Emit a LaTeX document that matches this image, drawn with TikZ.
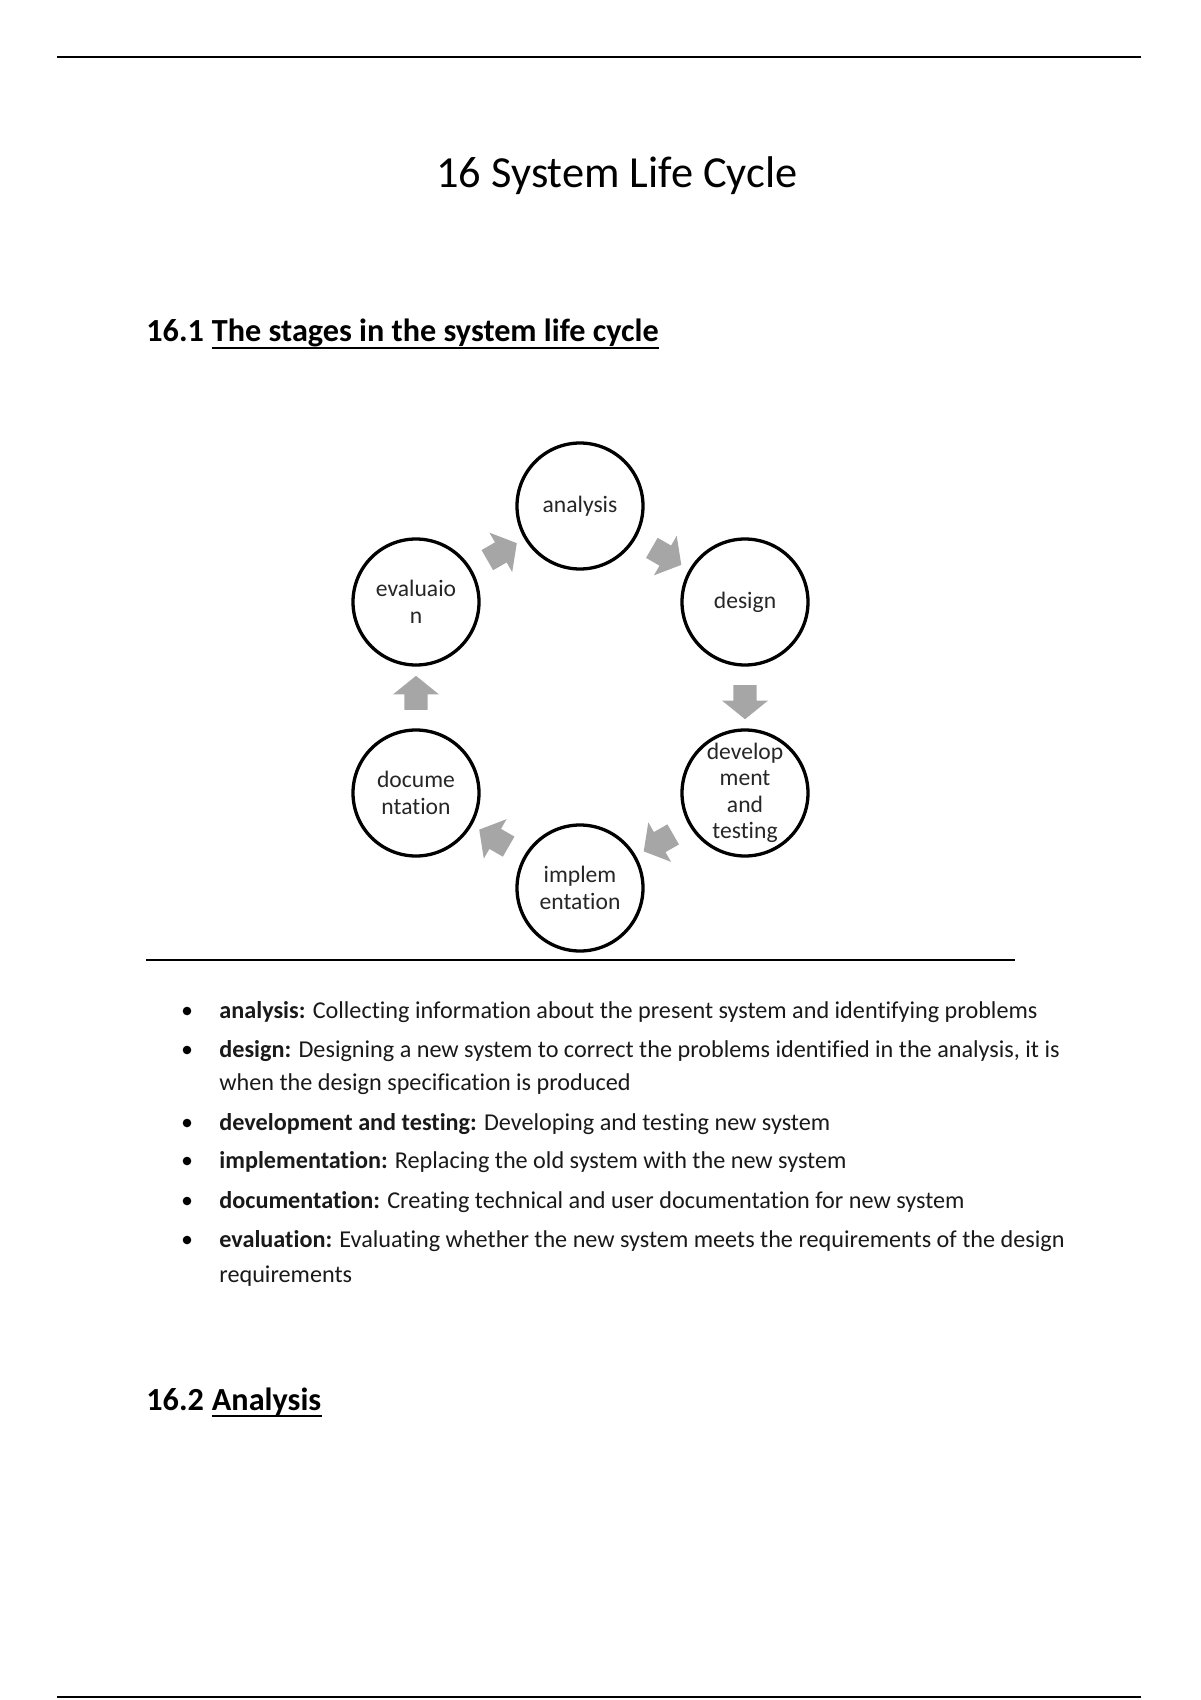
\documentclass[tikz,border=0pt]{standalone}
\usepackage{fontspec}
\setmainfont[Ligatures=NoCommon]{Carlito}
\usetikzlibrary{positioning}
\usetikzlibrary{calc}
\usetikzlibrary{shapes.arrows}

\begin{document}
\begin{tikzpicture}[x=0.5pt,y=-0.5pt,
		stage/.style={circle,draw=black,line width=1.65pt,minimum size=63pt,inner sep=0pt},
		slabel/.style={align=center,inner sep=0pt,text=black!85,font=\fontsize{11.8}{13.2}\selectfont},
		flow/.style={single arrow,fill=black!35,draw=none,inner xsep=0pt,inner ysep=5.6pt,minimum height=17pt,single arrow head extend=5.6pt,single arrow tip angle=102},
		item/.style={anchor=base west,inner sep=0pt,text=black!90,font=\fontsize{12.1}{14}\selectfont},
		heading/.style={anchor=base west,inner sep=0pt,font=\fontsize{16.1}{19}\selectfont\bfseries},
		dot/.style={circle,fill=black,inner sep=0pt,minimum size=4.3pt},
		rulel/.style={line width=1.2pt}]
		\useasboundingbox (0,0) rectangle (1200,1700);
		\draw[rulel] (57,57) -- (1141,57);
		\node[anchor=base,inner sep=0pt,font=\fontsize{22.2}{26}\selectfont] (title) at (617,188) {16 System Life Cycle};
		\node[heading] (sec1) at (146,342) {16.1};
		\node[heading,anchor=base west] (sec1t) at ([xshift=3.6pt]sec1.base east) {The stages in the system life cycle};
		\draw[line width=1pt] ([yshift=-3pt]sec1t.base west) -- ([yshift=-3pt]sec1t.base east);
		% the cycle
		\node[stage] (ana) at (580,506) {};
		\node[stage] (des) at (745,602) {};
		\node[stage] (dev) at (745,793) {};
		\node[stage] (imp) at (580,888) {};
		\node[stage] (doc) at (416,793) {};
		\node[stage] (eva) at (416,602) {};
		\node[slabel] (anal) at (ana) {analysis};
		\node[slabel] (desl) at (des) {design};
		\node[slabel] (devl) at (dev) {develop\\ment\\and\\testing};
		\node[slabel] (impl) at (imp) {implem\\entation};
		\node[slabel] (docl) at (doc) {docume\\ntation};
		\node[slabel] (eval) at (eva) {evaluaio\\n};
		\node[flow,rotate=-30] (f1) at ($(ana)!0.5!(des)$) {};
		\node[flow,rotate=-90] (f2) at ($(des)!0.5!(dev)$) {};
		\node[flow,rotate=-150] (f3) at ($(dev)!0.5!(imp)$) {};
		\node[flow,rotate=150] (f4) at ($(imp)!0.5!(doc)$) {};
		\node[flow,rotate=90] (f5) at ($(doc)!0.5!(eva)$) {};
		\node[flow,rotate=30] (f6) at ($(eva)!0.5!(ana)$) {};
		\draw[line width=0.9pt] (146,960) -- (1015,960);
		% the list
		\foreach \y [count=\i] in {1018,1057,1130,1168,1208,1247}
			\node[dot] (b\i) at (187,\y-7) {};
		\node[item] (it1) at (219,1018) {\textbf{analysis:} Collecting information about the present system and identifying problems};
		\node[item] (it2) at (219,1057) {\textbf{design:} Designing a new system to correct the problems identified in the analysis, it is};
		\node[item] (it2b) at (219,1090) {when the design specification is produced};
		\node[item] (it3) at (219,1130) {\textbf{development and testing:} Developing and testing new system};
		\node[item] (it4) at (219,1168) {\textbf{implementation:} Replacing the old system with the new system};
		\node[item] (it5) at (219,1208) {\textbf{documentation:} Creating technical and user documentation for new system};
		\node[item] (it6) at (219,1247) {\textbf{evaluation:} Evaluating whether the new system meets the requirements of the design};
		\node[item] (it6b) at (219,1282) {requirements};
		\node[heading] (sec2) at (146,1410) {16.2};
		\node[heading,anchor=base west] (sec2t) at ([xshift=3.6pt]sec2.base east) {Analysis};
		\draw[line width=1pt] ([yshift=-3pt]sec2t.base west) -- ([yshift=-3pt]sec2t.base east);
		\draw[rulel] (57,1697) -- (1141,1697);
	\end{tikzpicture}
\end{document}
